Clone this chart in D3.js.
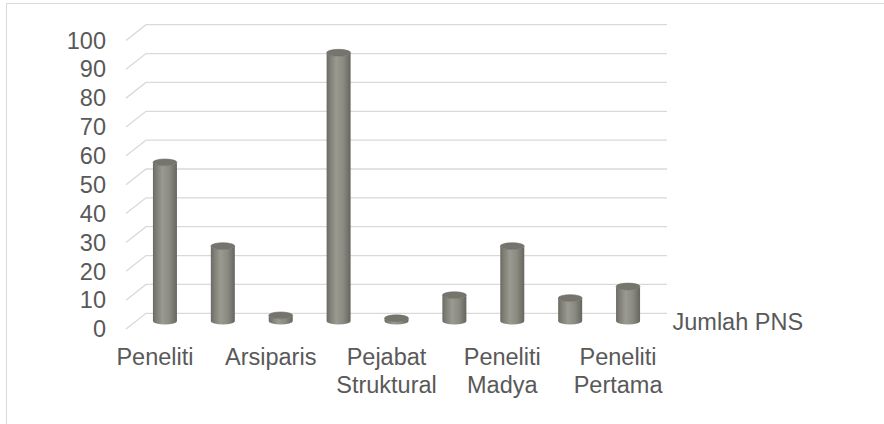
<!DOCTYPE html>
<html>
<head>
<meta charset="utf-8">
<script src="https://cdn.jsdelivr.net/npm/d3@7"></script>
<style>
  html, body { margin: 0; padding: 0; background: #ffffff; }
  svg { display: block; }
  text { font-family: "Liberation Sans", Arial, sans-serif; fill: #595959; }
</style>
</head>
<body>
<svg id="chart" width="884" height="424"></svg>
<script>
// ---- data ----
const categories = ["Peneliti", "", "Arsiparis", "", "Pejabat Struktural", "", "Peneliti Madya", "", "Peneliti Pertama"];
const values = [55, 26, 2, 93, 1, 9, 26, 8, 12];
const yTicks = [0, 10, 20, 30, 40, 50, 60, 70, 80, 90, 100];
const seriesName = "Jumlah PNS";

// ---- layout ----
const svg = d3.select("#chart");
const depthDX = 20, depthDY = -15.7;       // front -> back offset
const fontSize = 23.5;

// border
svg.append("rect")
  .attr("x", 6.5).attr("y", 3.5)
  .attr("width", 900).attr("height", 440)
  .attr("fill", "#fff").attr("stroke", "#d9d9d9").attr("stroke-width", 1);

// back-wall value scale
const yBack = d3.scaleLinear().domain([0, 100]).range([313.3, 24.7]);
// front floor band (categories)
const frontLeft = 126, frontRight = 647;
const xFront = d3.scaleBand().domain(d3.range(categories.length)).range([frontLeft, frontRight]);
const bw = xFront.bandwidth();

// gridlines (diagonal side + horizontal back wall)
const grid = svg.append("g");
yTicks.forEach(t => {
  const yb = yBack(t);
  grid.append("path")
    .attr("d", `M${frontLeft},${yb - depthDY} L${frontLeft + depthDX},${yb} L${frontRight + depthDX},${yb}`)
    .attr("fill", "none").attr("stroke", "#d9d9d9").attr("stroke-width", 1.3);
});

// y tick labels (front plane)
svg.append("g").selectAll("text").data(yTicks).join("text")
  .attr("x", 106)
  .attr("y", d => yBack(d) - depthDY)
  .attr("dy", "0.35em")
  .attr("text-anchor", "end")
  .attr("font-size", fontSize)
  .text(d => d);

// gradient for cylinders
const defs = svg.append("defs");
const grad = defs.append("linearGradient").attr("id", "cyl").attr("x1", "0%").attr("x2", "100%").attr("y1", "0%").attr("y2", "0%");
[["0%", "#6a6a62"], ["12%", "#7c7c74"], ["40%", "#9a9a91"], ["70%", "#8a8a82"], ["100%", "#66665f"]]
  .forEach(([o, c]) => grad.append("stop").attr("offset", o).attr("stop-color", c));

// bars at mid-depth
const midDX = depthDX / 2, midDY = depthDY / 2;
const barW = 24, ry = 3.4;
svg.append("g").selectAll("g.bar").data(values).join("g").attr("class", "bar").each(function(v, i) {
  const g = d3.select(this);
  const cx = xFront(i) + bw / 2 + midDX;
  const yBase = yBack(0) - midDY;
  const yTop = yBack(v) - midDY;
  const l = cx - barW / 2, r = cx + barW / 2, rx = barW / 2;
  g.append("path")
    .attr("d", `M${l},${yTop} L${l},${yBase} A${rx},${ry} 0 0 0 ${r},${yBase} L${r},${yTop} A${rx},${ry} 0 0 1 ${l},${yTop} Z`)
    .attr("fill", "url(#cyl)");
  g.append("ellipse")
    .attr("cx", cx).attr("cy", yTop).attr("rx", rx).attr("ry", ry)
    .attr("fill", "#75756d").attr("stroke", "#6c6c64").attr("stroke-width", 0.6);
});

// category labels (front plane), only non-empty ones are shown
const labels = svg.append("g");
categories.forEach((c, i) => {
  if (!c) return;
  const words = c.split(" ");
  const t = labels.append("text")
    .attr("x", xFront(i) + bw / 2)
    .attr("y", 365)
    .attr("text-anchor", "middle")
    .attr("font-size", fontSize);
  words.forEach((w, k) => {
    t.append("tspan").attr("x", xFront(i) + bw / 2).attr("dy", k === 0 ? 0 : 27.5).text(w);
  });
});

// series label
svg.append("text")
  .attr("x", 672.5).attr("y", 330)
  .attr("font-size", fontSize)
  .text(seriesName);
</script>
</body>
</html>
